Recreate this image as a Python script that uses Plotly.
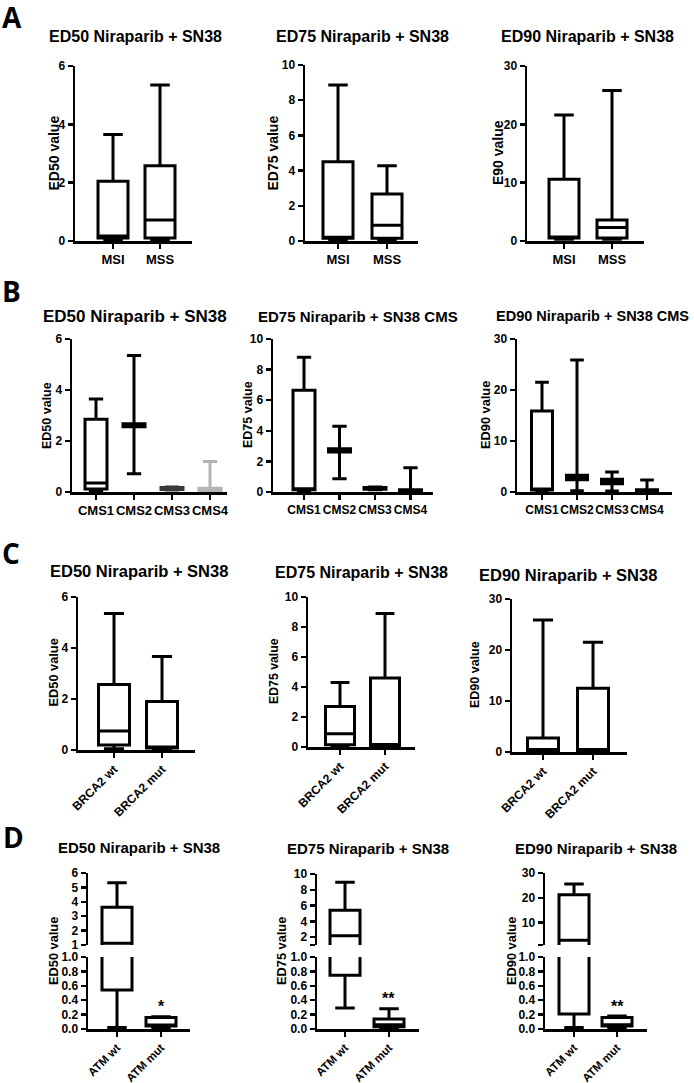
import plotly.graph_objects as go

# the page body margin is removed below, so the figure fills the window
OX, OY = 0, 0
W, H = 694, 1083
FONT = "Liberation Sans, Arial, sans-serif"

# ---------------- data ----------------
# Panel A : MSI vs MSS
msi_mss = ["MSI", "MSS"]
a50_min = [0.05, 0.05]
a50_q1 = [0.10, 0.10]
a50_med = [0.17, 0.72]
a50_q3 = [2.05, 2.58]
a50_max = [3.65, 5.35]

a75_min = [0.08, 0.08]
a75_q1 = [0.15, 0.15]
a75_med = [0.20, 0.90]
a75_q3 = [4.50, 2.67]
a75_max = [8.86, 4.28]

a90_min = [0.3, 0.3]
a90_q1 = [0.5, 0.5]
a90_med = [0.55, 2.3]
a90_q3 = [10.6, 3.6]
a90_max = [21.6, 25.8]

# Panel B : CMS subtypes
cms = ["CMS1", "CMS2", "CMS3", "CMS4"]
b50_min = [0.03, 0.72, 0.08, 0.02]
b50_q1 = [0.12, 2.56, 0.10, 0.04]
b50_med = [0.35, 2.62, 0.14, 0.10]
b50_q3 = [2.85, 2.68, 0.18, 0.15]
b50_max = [3.65, 5.35, 0.20, 1.20]

b75_min = [0.05, 0.87, 0.15, 0.02]
b75_q1 = [0.15, 2.62, 0.18, 0.05]
b75_med = [0.20, 2.72, 0.25, 0.10]
b75_q3 = [6.65, 2.82, 0.30, 0.15]
b75_max = [8.80, 4.30, 0.32, 1.58]

b90_min = [0.2, 0.25, 0.2, 0.1]
b90_q1 = [0.4, 2.4, 1.6, 0.15]
b90_med = [0.5, 2.9, 2.0, 0.3]
b90_q3 = [15.9, 3.3, 2.5, 0.45]
b90_max = [21.5, 25.9, 3.9, 2.35]

# Panel C : BRCA2
brca = ["BRCA2 wt", "BRCA2 mut"]
c50_min = [0.05, 0.03]
c50_q1 = [0.20, 0.08]
c50_med = [0.75, 0.12]
c50_q3 = [2.57, 1.90]
c50_max = [5.35, 3.67]

c75_min = [0.05, 0.05]
c75_q1 = [0.15, 0.10]
c75_med = [0.88, 0.15]
c75_q3 = [2.70, 4.60]
c75_max = [4.30, 8.90]

c90_min = [0.1, 0.1]
c90_q1 = [0.3, 0.3]
c90_med = [0.4, 0.5]
c90_q3 = [2.75, 12.5]
c90_max = [25.9, 21.5]

# Panel D : ATM
atm = ["ATM wt", "ATM mut"]
d50_min = [0.02, 0.02]
d50_q1 = [0.54, 0.04]
d50_med = [1.12, 0.05]
d50_q3 = [3.62, 0.16]
d50_max = [5.33, 0.17]

d75_min = [0.29, 0.01]
d75_q1 = [0.745, 0.03]
d75_med = [2.18, 0.06]
d75_q3 = [5.39, 0.14]
d75_max = [8.94, 0.28]

d90_min = [0.02, 0.02]
d90_q1 = [0.21, 0.04]
d90_med = [2.9, 0.06]
d90_q3 = [21.2, 0.16]
d90_max = [25.6, 0.18]

d_signif = ["*", "**", "**"]

# ---------------- figure ----------------
fig = go.Figure()
state = {"n": 0}


def fx(x):
    return (x - OX) / W


def fy(y):
    return 1 - (y - OY) / H


def tfont(size):
    return dict(family=FONT, size=size, color="black")


def bold(v):
    return ["" if t == "" else "<b>" + str(t) + "</b>" for t in v]


def new_axes(xa, xe, ytop, ybot, cats, c0, sp, yrange, tickvals,
             ticktext=None, show_x=True, tickangle=0, xfont=12, yfont=12):
    state["n"] += 1
    n = state["n"]
    sx = "" if n == 1 else str(n)
    xr = [-(c0 - xa) / sp, (xe - c0) / sp]
    if ticktext is None:
        ticktext = [str(t) for t in tickvals]
    fig.update_layout(**{
        "xaxis" + sx: dict(
            domain=[fx(xa), fx(xe)], anchor="y" + sx, type="category",
            categoryarray=cats, categoryorder="array", range=xr,
            tickmode="array", tickvals=cats, ticktext=bold(cats),
            showline=show_x, linecolor="black", linewidth=2.5,
            ticks="outside" if show_x else "", ticklen=5, tickwidth=2.5,
            tickcolor="black", showticklabels=show_x, tickangle=tickangle,
            tickfont=tfont(xfont), showgrid=False, zeroline=False,
            automargin=False, fixedrange=True),
        "yaxis" + sx: dict(
            domain=[fy(ybot), fy(ytop)], anchor="x" + sx,
            range=yrange, showline=True, linecolor="black", linewidth=2.5,
            ticks="outside", ticklen=5, tickwidth=2.5, tickcolor="black",
            tickmode="array", tickvals=tickvals, ticktext=bold(ticktext),
            tickfont=tfont(yfont), showgrid=False, zeroline=False,
            automargin=False, fixedrange=True),
    })
    return sx


def add_boxes(sx, cats, lo, q1, med, q3, hi, width, colors=None):
    for i, c in enumerate(cats):
        col = colors[i] if colors else "black"
        fig.add_trace(go.Box(
            x=[c], lowerfence=[lo[i]], q1=[q1[i]], median=[med[i]],
            q3=[q3[i]], upperfence=[hi[i]],
            xaxis="x" + sx, yaxis="y" + sx, fillcolor="white",
            line=dict(color=col, width=3), whiskerwidth=0.65, width=width,
            boxpoints=False, showlegend=False, hoverinfo="skip"))


def ann(text, x, y, size, angle=0, family=FONT):
    fig.add_annotation(text="<b>" + text + "</b>", x=fx(x), y=fy(y),
                       xref="paper", yref="paper", showarrow=False,
                       textangle=angle, xanchor="center", yanchor="middle",
                       font=dict(family=family, size=size, color="black"))


t6 = [0, 2, 4, 6]
t10 = [0, 2, 4, 6, 8, 10]
t30 = [0, 10, 20, 30]

# Row A
sx = new_axes(75, 192, 66, 241, msi_mss, 113, 47, [0, 6], t6, xfont=13)
add_boxes(sx, msi_mss, a50_min, a50_q1, a50_med, a50_q3, a50_max, 30 / 47)
sx = new_axes(305, 418, 65, 241, msi_mss, 338, 49, [0, 10], t10, xfont=13)
add_boxes(sx, msi_mss, a75_min, a75_q1, a75_med, a75_q3, a75_max, 30 / 49)
sx = new_axes(527, 644, 66, 241, msi_mss, 564, 48, [0, 30], t30, xfont=13)
add_boxes(sx, msi_mss, a90_min, a90_q1, a90_med, a90_q3, a90_max, 30 / 48)

# Row B
sx = new_axes(72, 227, 339, 492, cms, 96, 38, [0, 6], t6, xfont=13)
add_boxes(sx, cms, b50_min, b50_q1, b50_med, b50_q3, b50_max, 22 / 38,
          colors=["black", "black", "#3a3a3a", "#b4b4b4"])
sx = new_axes(273, 433, 339, 492, cms, 304, 35.5, [0, 10], t10)
add_boxes(sx, cms, b75_min, b75_q1, b75_med, b75_q3, b75_max, 22 / 35.5)
sx = new_axes(517, 672, 339, 492, cms, 542, 35, [0, 30], t30)
add_boxes(sx, cms, b90_min, b90_q1, b90_med, b90_q3, b90_max, 21 / 35)

# Row C
sx = new_axes(78, 195, 597, 750, brca, 114, 48, [0, 6], t6, tickangle=-45)
add_boxes(sx, brca, c50_min, c50_q1, c50_med, c50_q3, c50_max, 31 / 48)
sx = new_axes(308, 415, 597, 747, brca, 340, 45, [0, 10], t10, tickangle=-45)
add_boxes(sx, brca, c75_min, c75_q1, c75_med, c75_q3, c75_max, 29 / 45)
sx = new_axes(512, 627, 599, 752, brca, 543, 50, [0, 30], t30, tickangle=-45)
add_boxes(sx, brca, c90_min, c90_q1, c90_med, c90_q3, c90_max, 31 / 50)

# Row D (broken axes: upper and lower segment)
low_ticks = [0, 0.2, 0.4, 0.6, 0.8, 1.0]
low_text = ["0.0", "0.2", "0.4", "0.6", "0.8", "1.0"]
d_specs = [
    (88, 190, 873, 117, 44, [1, 6], [1, 2, 3, 4, 5, 6], None,
     (d50_min, d50_q1, d50_med, d50_q3, d50_max)),
    (317, 419, 874, 345, 44, [1, 10], [1, 2, 4, 6, 8, 10],
     ["", "2", "4", "6", "8", "10"],
     (d75_min, d75_q1, d75_med, d75_q3, d75_max)),
    (545, 647, 873, 574, 43, [1, 30], [1, 10, 20, 30], ["", "10", "20", "30"],
     (d90_min, d90_q1, d90_med, d90_q3, d90_max)),
]
for xa, xe, utop, c0, sp, urange, utv, utt, stats in d_specs:
    sx = new_axes(xa, xe, utop, 945, atm, c0, sp, urange, utv, ticktext=utt,
                  show_x=False)
    add_boxes(sx, atm, *stats, 30 / sp)
    sx = new_axes(xa, xe, 957, 1029, atm, c0, sp, [0, 1.0], low_ticks,
                  ticktext=low_text, tickangle=-45, xfont=11.5)
    add_boxes(sx, atm, *stats, 30 / sp)

# Titles
titles = [
    ("ED50 Niraparib + SN38", 135.5, 36, 16),
    ("ED75 Niraparib + SN38", 362.5, 36, 16),
    ("ED90 Niraparib + SN38", 587.5, 36, 16),
    ("ED50 Niraparib + SN38", 135, 316, 17),
    ("ED75 Niraparib + SN38 CMS", 357.5, 316, 15),
    ("ED90 Niraparib + SN38 CMS", 592, 316, 14.5),
    ("ED50 Niraparib + SN38", 138.5, 571, 16.5),
    ("ED75 Niraparib + SN38", 361.7, 572, 16),
    ("ED90 Niraparib + SN38", 568, 575, 16.5),
    ("ED50 Niraparib + SN38", 139, 847, 15),
    ("ED75 Niraparib + SN38", 368, 848, 15),
    ("ED90 Niraparib + SN38", 596, 848, 15),
]
for t, x, y, s in titles:
    ann(t, x, y, s)

ytitles = [
    ("ED50 value", 53.5, 153, 14), ("ED75 value", 272.5, 153, 14),
    ("E90 value", 497.5, 152.5, 14),
    ("ED50 value", 47, 415, 12.5), ("ED75 value", 248, 415, 12.5),
    ("ED90 value", 485, 415, 12.8),
    ("ED50 value", 53, 672.5, 12.8), ("ED75 value", 274, 671, 12.3),
    ("ED90 value", 475, 675, 12.5),
    ("ED50 value", 53, 951, 12.8), ("ED75 value", 281, 951, 12.8),
    ("ED90 value", 511, 951, 12.8),
]
for t, x, y, s in ytitles:
    ann(t, x, y, s, angle=-90)

for t, x, y in [("A", 12, 17), ("B", 11, 291), ("C", 11, 553), ("D", 13, 837)]:
    ann(t, x, y, 28, family="Open Sans, sans-serif")

for t, x, y in zip(d_signif, [161, 389, 617], [1006, 998, 1006]):
    ann(t, x, y, 16)

fig.update_layout(template="none", width=W, height=H,
                  margin=dict(l=0, r=0, t=0, b=0, pad=0, autoexpand=False),
                  paper_bgcolor="white", plot_bgcolor="white",
                  boxmode="overlay", showlegend=False)

fig.write_html(
    "out.html",
    config={"displayModeBar": False, "staticPlot": True},
    post_script="document.body.style.margin='0px';"
                "document.body.style.overflow='hidden';")
